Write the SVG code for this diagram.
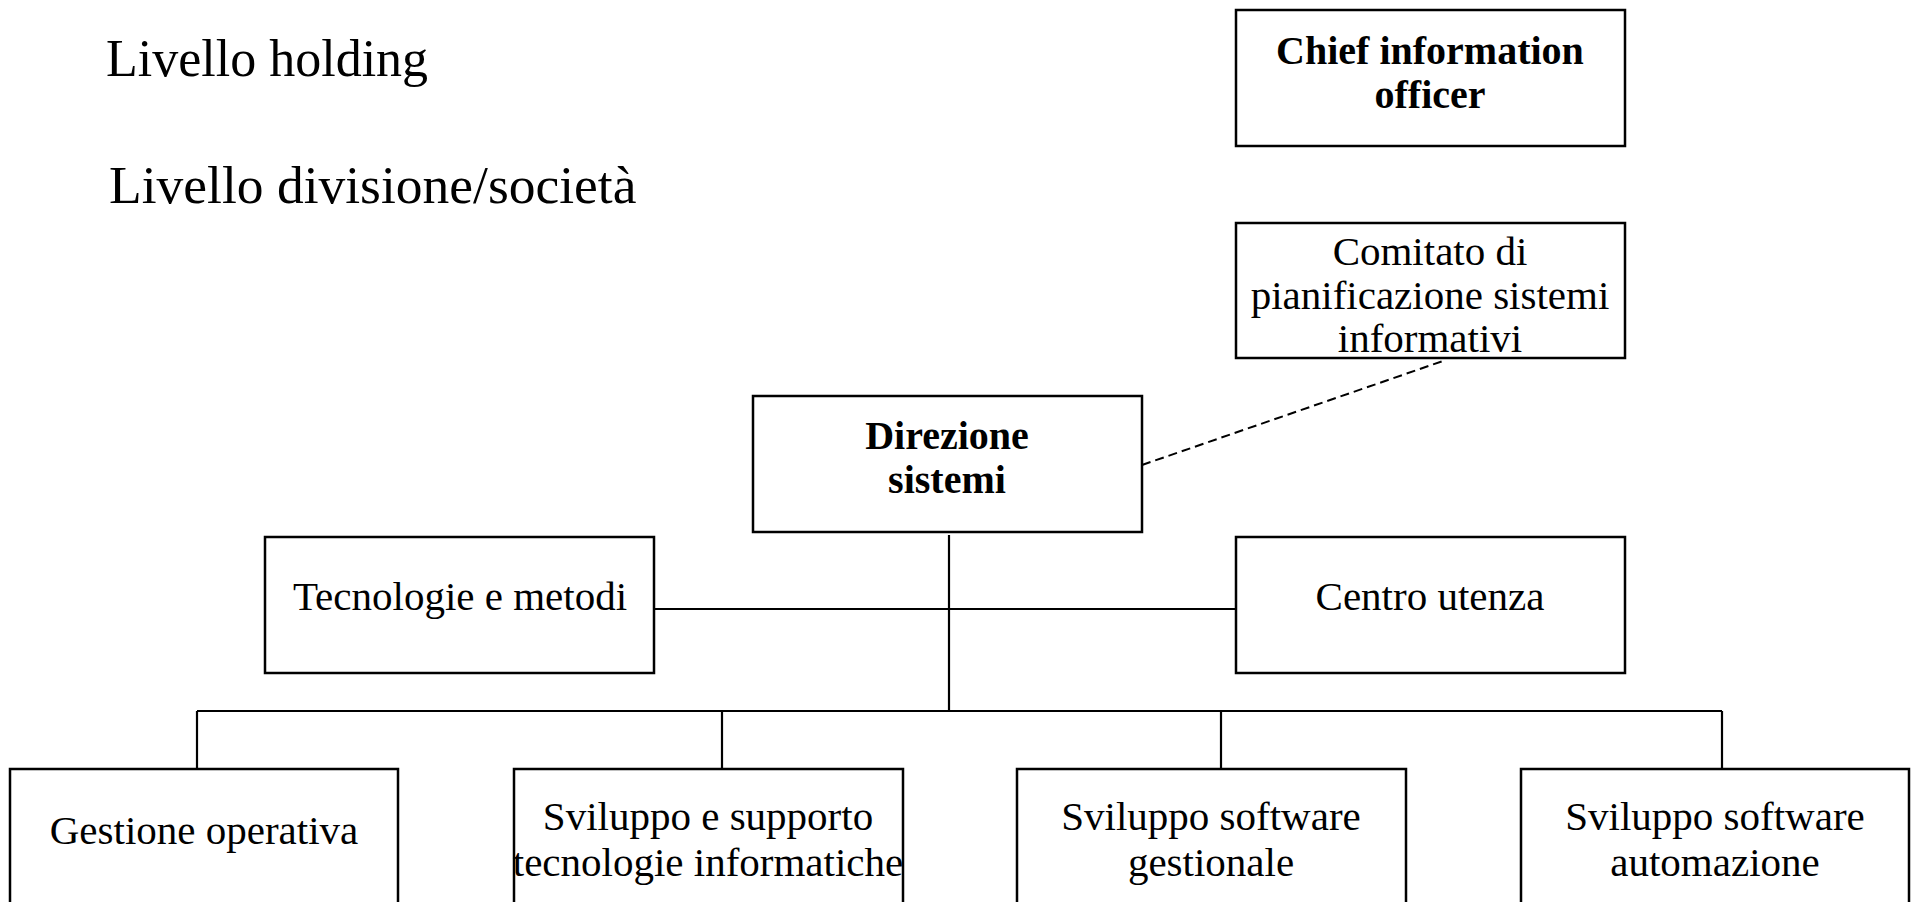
<svg xmlns="http://www.w3.org/2000/svg" width="1918" height="902" viewBox="0 0 1918 902">
  <style>
    .box { fill: #ffffff; stroke: #000000; stroke-width: 2.5; }
    .t { font-family: "Liberation Serif", "DejaVu Serif", serif; font-size: 41px; fill: #000000; text-anchor: middle; }
    .b { font-weight: bold; font-size: 40px; }
    .lvl { font-family: "Liberation Serif", "DejaVu Serif", serif; font-size: 52px; fill: #000000; }
    .ln { stroke: #000000; stroke-width: 2.2; fill: none; }
    .dash { stroke: #000000; stroke-width: 2; stroke-dasharray: 9 5; fill: none; }
  </style>
  <rect x="0" y="0" width="1918" height="902" fill="#ffffff"/>

  <!-- level labels -->
  <text class="lvl" x="106" y="76">Livello holding</text>
  <text class="lvl" x="109" y="203" style="font-size:53.5px">Livello divisione/società</text>

  <!-- connectors -->
  <g id="connectors">
    <line class="dash" x1="1142" y1="465" x2="1443" y2="361"/>
    <line class="ln" x1="949" y1="535" x2="949" y2="711"/>
    <line class="ln" x1="654" y1="609" x2="1235" y2="609"/>
    <line class="ln" x1="197" y1="711" x2="1722" y2="711"/>
    <line class="ln" x1="197" y1="711" x2="197" y2="768"/>
    <line class="ln" x1="722" y1="711" x2="722" y2="768"/>
    <line class="ln" x1="1221" y1="711" x2="1221" y2="768"/>
    <line class="ln" x1="1722" y1="711" x2="1722" y2="768"/>
  </g>

  <g id="cio">
    <rect class="box" x="1236" y="10" width="389" height="136"/>
    <text class="t b" x="1430" y="64">Chief information</text>
    <text class="t b" x="1430" y="108">officer</text>
  </g>

  <g id="comitato">
    <rect class="box" x="1236" y="223" width="389" height="135"/>
    <text class="t" x="1430" y="265">Comitato di</text>
    <text class="t" x="1430" y="309">pianificazione sistemi</text>
    <text class="t" x="1430" y="352">informativi</text>
  </g>

  <g id="direzione">
    <rect class="box" x="753" y="396" width="389" height="136"/>
    <text class="t b" x="947" y="449">Direzione</text>
    <text class="t b" x="947" y="493">sistemi</text>
  </g>

  <g id="tecnologie">
    <rect class="box" x="265" y="537" width="389" height="136"/>
    <text class="t" x="460" y="610">Tecnologie e metodi</text>
  </g>

  <g id="centro">
    <rect class="box" x="1236" y="537" width="389" height="136"/>
    <text class="t" x="1430" y="610">Centro utenza</text>
  </g>

  <g id="gestione">
    <rect class="box" x="10" y="769" width="388" height="160"/>
    <text class="t" x="204" y="844">Gestione operativa</text>
  </g>

  <g id="supporto">
    <rect class="box" x="514" y="769" width="389" height="160"/>
    <text class="t" x="708" y="830">Sviluppo e supporto</text>
    <text class="t" x="708" y="876">tecnologie informatiche</text>
  </g>

  <g id="gestionale">
    <rect class="box" x="1017" y="769" width="389" height="160"/>
    <text class="t" x="1211" y="830">Sviluppo software</text>
    <text class="t" x="1211" y="876">gestionale</text>
  </g>

  <g id="automazione">
    <rect class="box" x="1521" y="769" width="388" height="160"/>
    <text class="t" x="1715" y="830">Sviluppo software</text>
    <text class="t" x="1715" y="876">automazione</text>
  </g>
</svg>
